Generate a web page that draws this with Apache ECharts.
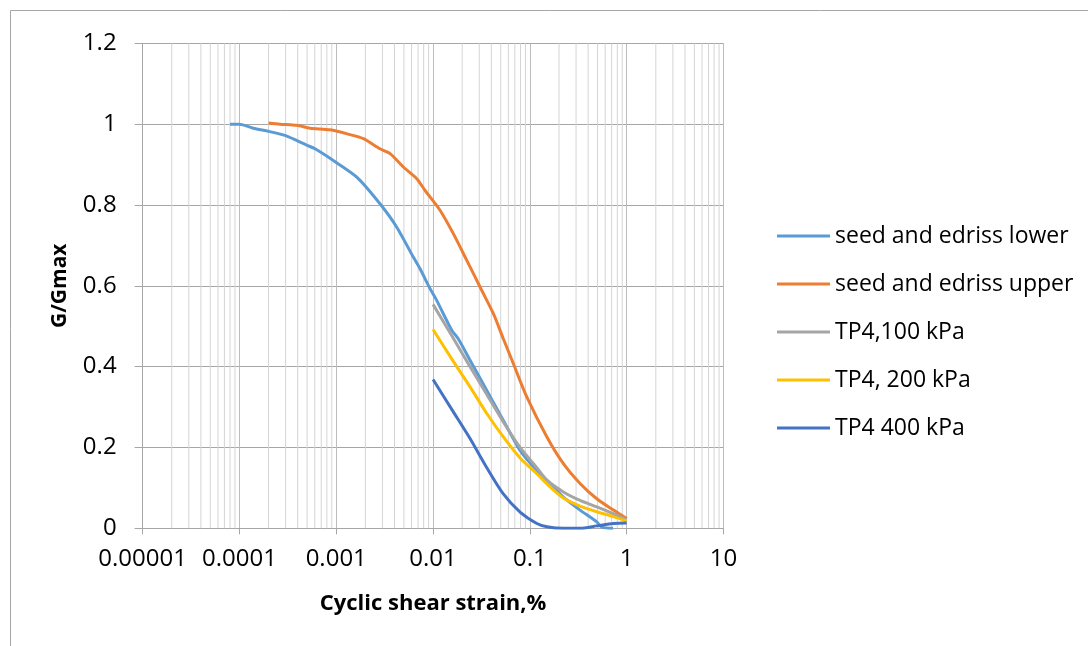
<!DOCTYPE html>
<html>
<head>
<meta charset="utf-8">
<title>G/Gmax vs cyclic shear strain</title>
<script src="https://cdn.jsdelivr.net/npm/echarts@6/dist/echarts.min.js"></script>
<style>
  html, body { margin: 0; padding: 0; background: #fff; }
  #chart { width: 1088px; height: 646px; }
</style>
</head>
<body>
<div id="chart"></div>
<script>
// Strain ticks (log decades) and their printed labels
const strainTicks = [0.00001, 0.0001, 0.001, 0.01, 0.1, 1, 10];
const strainTickLabels = ['0.00001', '0.0001', '0.001', '0.01', '0.1', '1', '10'];

// Seed and Idriss bounds
const lowerStrain = [0.00008, 0.0001, 0.000139, 0.0002, 0.000296, 0.000495, 0.000604, 0.000933, 0.00163, 0.00283, 0.00422, 0.00625, 0.00734, 0.00931, 0.0109, 0.0156, 0.0182, 0.0241, 0.0359, 0.0532, 0.0792, 0.118, 0.150, 0.222, 0.330, 0.491, 0.553, 0.723];
const lowerG = [1.0, 1.0, 0.990, 0.982, 0.972, 0.948, 0.939, 0.910, 0.869, 0.803, 0.745, 0.671, 0.642, 0.593, 0.564, 0.490, 0.469, 0.416, 0.341, 0.267, 0.193, 0.143, 0.119, 0.077, 0.045, 0.016, 0.003, 0.0];

const upperStrain = [0.0002, 0.000262, 0.000391, 0.000536, 0.000863, 0.00139, 0.00191, 0.00283, 0.0036, 0.00493, 0.00679, 0.00826, 0.0118, 0.0162, 0.0223, 0.0306, 0.042, 0.0532, 0.0676, 0.0929, 0.150, 0.222, 0.330, 0.491, 0.730, 1.0];
const upperG = [1.003, 1.0, 0.997, 0.990, 0.986, 0.974, 0.964, 0.939, 0.927, 0.894, 0.865, 0.836, 0.787, 0.729, 0.663, 0.597, 0.531, 0.469, 0.407, 0.325, 0.226, 0.160, 0.111, 0.073, 0.045, 0.024];

// TP4 test results at three confining pressures
const tpStrain = [0.01, 0.0162, 0.0241, 0.0359, 0.0532, 0.0792, 0.118, 0.150, 0.222, 0.330, 0.491, 0.730, 1.0];
const tp100G = [0.554, 0.470, 0.400, 0.331, 0.263, 0.200, 0.150, 0.119, 0.090, 0.069, 0.053, 0.036, 0.021];
const tp200G = [0.492, 0.413, 0.350, 0.284, 0.226, 0.174, 0.135, 0.110, 0.075, 0.055, 0.041, 0.029, 0.018];
const tp400G = [0.368, 0.288, 0.222, 0.150, 0.085, 0.040, 0.012, 0.004, 0.0, 0.0, 0.006, 0.012, 0.013];

const seriesNames = ['seed and edriss lower', 'seed and edriss upper', 'TP4,100 kPa', 'TP4, 200 kPa', 'TP4 400 kPa'];
const seriesColors = ['#5B9BD5', '#ED7D31', '#A5A5A5', '#FFC000', '#4472C4'];

const yMin = 0, yMax = 1.2, yStep = 0.2;

const pair = (xs, ys) => xs.map((x, i) => [x, ys[i]]);

// Minor vertical gridlines at 2..9 within each decade, as broken segments
const minorGrid = [];
for (let e = -5; e < 1; e++) {
  for (let m = 2; m <= 9; m++) {
    const x = m * Math.pow(10, e);
    minorGrid.push([x, yMin], [x, yMax], [x, null]);
  }
}

const font = '"Open Sans", "Liberation Sans", sans-serif';

const chart = echarts.init(document.getElementById('chart'), null, { renderer: 'canvas' });

const curves = [
  pair(lowerStrain, lowerG),
  pair(upperStrain, upperG),
  pair(tpStrain, tp100G),
  pair(tpStrain, tp200G),
  pair(tpStrain, tp400G)
];

chart.setOption({
  animation: false,
  backgroundColor: '#ffffff',
  graphic: [{
    type: 'rect',
    shape: { x: 10.5, y: 10.5, width: 1300, height: 900 },
    style: { fill: 'none', stroke: '#a6a6a6', lineWidth: 1 },
    silent: true,
    z: -10
  }],
  grid: { left: 142.6, top: 43.3, right: 364.5, bottom: 117.7, containLabel: false },
  legend: {
    orient: 'vertical',
    left: 777,
    top: 224.5,
    padding: 0,
    itemWidth: 53,
    itemHeight: 14,
    itemGap: 25,
    icon: 'path://M0,6 L53,6 L53,9 L0,9 Z',
    data: seriesNames,
    textStyle: { fontFamily: font, fontSize: 23, color: '#000', lineHeight: 23 },
    selectedMode: false
  },
  xAxis: {
    type: 'log',
    logBase: 10,
    min: 0.00001,
    max: 10,
    name: 'Cyclic shear strain,%',
    nameLocation: 'middle',
    nameGap: 64,
    nameTextStyle: { fontFamily: font, fontSize: 22, fontWeight: 'bold', color: '#000' },
    axisLine: { show: true, onZero: false, lineStyle: { color: '#a6a6a6', width: 1 } },
    axisTick: { show: true, length: 6, lineStyle: { color: '#a6a6a6' } },
    axisLabel: {
      margin: 19,
      fontFamily: font, fontSize: 24, color: '#000',
      formatter: v => {
        const i = strainTicks.findIndex(t => Math.abs(Math.log10(t) - Math.log10(v)) < 1e-6);
        return i >= 0 ? strainTickLabels[i] : '';
      }
    },
    splitLine: { show: true, lineStyle: { color: '#bcbcbc', width: 1 } }
  },
  yAxis: {
    type: 'value',
    min: yMin,
    max: yMax,
    interval: yStep,
    name: 'G/Gmax',
    nameLocation: 'middle',
    nameRotate: 90,
    nameGap: 72,
    nameTextStyle: { fontFamily: font, fontSize: 21, fontWeight: 'bold', color: '#000' },
    axisLine: { show: true, lineStyle: { color: '#a6a6a6', width: 1 } },
    axisTick: { show: true, length: 8, lineStyle: { color: '#a6a6a6' } },
    axisLabel: {
      margin: 26,
      fontFamily: font, fontSize: 24, color: '#000',
      formatter: v => String(Math.round(v * 10) / 10)
    },
    splitLine: { show: true, lineStyle: { color: '#a6a6a6', width: 1 } }
  },
  series: [
    {
      name: 'minor-grid',
      type: 'line',
      data: minorGrid,
      showSymbol: false,
      connectNulls: false,
      silent: true,
      z: 1,
      lineStyle: { color: '#d4d4d4', width: 1 },
      emphasis: { disabled: true }
    },
    ...curves.map((d, i) => ({
      name: seriesNames[i],
      type: 'line',
      data: d,
      showSymbol: false,
      smooth: 0.25,
      color: seriesColors[i],
      lineStyle: { color: seriesColors[i], width: 3 },
      emphasis: { disabled: true },
      z: 3 + i
    }))
  ]
});
</script>
</body>
</html>
